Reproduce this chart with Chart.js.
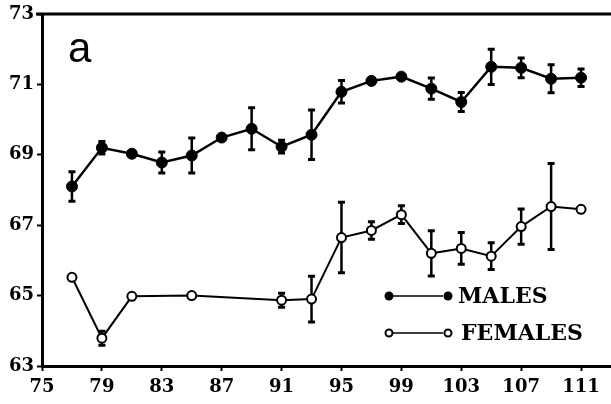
<!DOCTYPE html>
<html>
<head>
<meta charset="utf-8">
<script src="https://cdn.jsdelivr.net/npm/chart.js@4/dist/chart.umd.min.js"></script>
<style>
  html, body { margin: 0; padding: 0; background: #fff; }
  #wrap { width: 611px; height: 404px; }
</style>
</head>
<body>
<div id="wrap"><canvas id="chart" width="611" height="404"></canvas></div>
<script>
// values (year of survey vs mean)
const maleYears = [77, 79, 81, 83, 85, 87, 89, 91, 93, 95, 97, 99, 101, 103, 105, 107, 109, 111];
const maleMeans = [68.10, 69.20, 69.03, 68.78, 68.98, 69.49, 69.74, 69.23, 69.57, 70.79, 71.10, 71.22, 70.88, 70.50, 71.50, 71.47, 71.16, 71.19];
const maleErrs  = [0.42, 0.18, 0, 0.30, 0.50, 0, 0.60, 0.18, 0.70, 0.32, 0, 0, 0.30, 0.27, 0.50, 0.28, 0.40, 0.25];

const femaleYears = [77, 79, 81, 85, 91, 93, 95, 97, 99, 101, 103, 105, 107, 109, 111];
const femaleMeans = [65.52, 63.79, 64.98, 65.00, 64.87, 64.90, 66.65, 66.85, 67.30, 66.20, 66.34, 66.12, 66.96, 67.53, 67.45];
const femaleErrs  = [0, 0.20, 0, 0, 0.20, 0.65, 1.00, 0.25, 0.25, 0.64, 0.45, 0.38, 0.50, 1.22, 0];

const xTicks = [75, 79, 83, 87, 91, 95, 99, 103, 107, 111];
const yTicks = [63, 65, 67, 69, 71, 73];
const panelLabel = 'a';

const toPoints = (xs, ys, es) => xs.map((x, i) => ({ x, y: ys[i], err: es[i] }));

// error bars drawn under the markers
const errorBars = {
    id: 'errorBars',
    beforeDatasetsDraw(chart) {
        const ctx = chart.ctx;
        const xs = chart.scales.x, ys = chart.scales.y;
        ctx.save();
        ctx.strokeStyle = '#000';
        chart.data.datasets.forEach(ds => {
            ds.data.forEach(p => {
                if (!p.err) return;
                const px = xs.getPixelForValue(p.x);
                const top = ys.getPixelForValue(p.y + p.err);
                const bot = ys.getPixelForValue(p.y - p.err);
                ctx.lineWidth = 2.5;
                ctx.beginPath();
                ctx.moveTo(px, top); ctx.lineTo(px, bot);
                ctx.stroke();
                ctx.lineWidth = 3;
                ctx.beginPath();
                ctx.moveTo(px - 3.5, top); ctx.lineTo(px + 3.5, top);
                ctx.moveTo(px - 3.5, bot); ctx.lineTo(px + 3.5, bot);
                ctx.stroke();
            });
        });
        ctx.restore();
    }
};

// top frame line, panel letter and the in-plot legend
const decorations = {
    id: 'decorations',
    afterDraw(chart) {
        const ctx = chart.ctx;
        const area = chart.chartArea;
        ctx.save();
        ctx.strokeStyle = '#000';
        ctx.lineWidth = 3;
        ctx.beginPath();
        ctx.moveTo(area.left - 6, area.top);
        ctx.lineTo(area.right, area.top);
        ctx.stroke();

        ctx.fillStyle = '#000';
        ctx.font = '42px "Liberation Sans", Arial, sans-serif';
        ctx.textBaseline = 'alphabetic';
        ctx.fillText(panelLabel, 68, 62);

        const rows = [
            { y: 296, filled: true, ds: chart.data.datasets[0] },
            { y: 333, filled: false, ds: chart.data.datasets[1] }
        ];
        ctx.font = 'bold 22px "DejaVu Serif", serif';
        ctx.textBaseline = 'middle';
        rows.forEach(r => {
            ctx.lineWidth = 1.5;
            ctx.beginPath();
            ctx.moveTo(393, r.y); ctx.lineTo(443, r.y);
            ctx.stroke();
            [389, 448].forEach(cx => {
                ctx.beginPath();
                if (r.filled) {
                    ctx.arc(cx, r.y, 4.5, 0, Math.PI * 2);
                    ctx.fill();
                } else {
                    ctx.lineWidth = 2;
                    ctx.fillStyle = '#fff';
                    ctx.arc(cx, r.y, 3.5, 0, Math.PI * 2);
                    ctx.fill();
                    ctx.stroke();
                    ctx.fillStyle = '#000';
                }
            });
            ctx.fillText(r.ds.label, r.filled ? 458 : 461, r.y + 1);
        });
        ctx.restore();
    }
};

new Chart(document.getElementById('chart'), {
    type: 'line',
    data: {
        datasets: [
            {
                label: 'MALES',
                data: toPoints(maleYears, maleMeans, maleErrs),
                borderColor: '#000',
                borderWidth: 2.5,
                pointRadius: 5.5,
                pointBackgroundColor: '#000',
                pointBorderColor: '#000',
                pointBorderWidth: 1,
                tension: 0
            },
            {
                label: 'FEMALES',
                data: toPoints(femaleYears, femaleMeans, femaleErrs),
                borderColor: '#000',
                borderWidth: 2,
                pointRadius: 4.5,
                pointBackgroundColor: '#fff',
                pointBorderColor: '#000',
                pointBorderWidth: 2,
                tension: 0
            }
        ]
    },
    options: {
        responsive: false,
        animation: false,
        layout: { autoPadding: false, padding: { top: 14, right: 0, left: 0, bottom: 0 } },
        plugins: { legend: { display: false }, tooltip: { enabled: false } },
        scales: {
            x: {
                type: 'linear',
                min: 75,
                max: 113,
                afterBuildTicks: s => { s.ticks = xTicks.map(v => ({ value: v })); },
                afterFit: s => { s.height = 38; s.paddingLeft = 0; s.paddingRight = 0; },
                border: { display: true, color: '#000', width: 3 },
                grid: { drawOnChartArea: false, drawTicks: true, tickLength: 5, tickColor: '#000', tickWidth: 2 },
                ticks: {
                    color: '#000',
                    padding: 6,
                    maxRotation: 0,
                    autoSkip: false,
                    font: { family: '"DejaVu Serif", serif', size: 18, weight: 'bold' }
                }
            },
            y: {
                min: 63,
                max: 73,
                afterBuildTicks: s => { s.ticks = yTicks.map(v => ({ value: v })); },
                afterFit: s => { s.width = 42; s.paddingTop = 0; s.paddingBottom = 0; },
                border: { display: true, color: '#000', width: 3 },
                grid: { drawOnChartArea: false, drawTicks: true, tickLength: 5, tickColor: '#000', tickWidth: 2 },
                ticks: {
                    color: '#000',
                    padding: 3,
                    autoSkip: false,
                    font: { family: '"DejaVu Serif", serif', size: 18, weight: 'bold' }
                }
            }
        }
    },
    plugins: [errorBars, decorations]
});
</script>
</body>
</html>
